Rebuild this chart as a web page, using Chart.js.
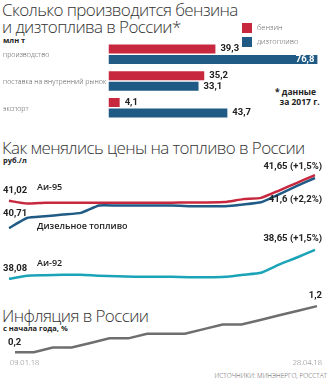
<!DOCTYPE html>
<html lang="ru">
<head>
<meta charset="UTF-8">
<title>Бензин и дизтопливо в России</title>
<script src="https://cdn.jsdelivr.net/npm/chart.js"></script>
<style>
  body { margin: 0; width: 329px; height: 380px; background: #fff; position: relative; overflow: hidden; font-family: "Open Sans", sans-serif; color: #222; }
  canvas { position: absolute; left: 0; top: 0; }
  .title { position: absolute; left: 2px; font-size: 17px; font-weight: 300; line-height: 17px; letter-spacing: -0.6px; color: #333; white-space: nowrap; }
  .unit { position: absolute; left: 3px; font-size: 7.5px; font-weight: 700; color: #222; }
  .note { position: absolute; left: 275px; top: 87px; font-size: 8.5px; font-weight: 700; line-height: 10px; color: #222; }
  .source { position: absolute; right: 2px; top: 371px; font-size: 6.5px; font-weight: 300; color: #555; }
</style>
</head>
<body>
  <div class="title" style="top:1px">Сколько производится бензина<br>и дизтоплива в России*</div>
  <div class="unit" style="top:35px">млн т</div>
  <div class="note">* данные<br>&nbsp;&nbsp;за 2017 г.</div>

  <div class="title" style="top:139px">Как менялись цены на топливо в России</div>
  <div class="unit" style="top:155px">руб./л</div>

  <div class="title" style="top:307px">Инфляция в России</div>
  <div class="unit" style="top:323px">с начала года, %</div>
  <div class="source">ИСТОЧНИКИ: МИНЭНЕРГО, РОССТАТ</div>

  <canvas id="bars" width="329" height="380"></canvas>
  <canvas id="prices" width="329" height="380"></canvas>
  <canvas id="inflation" width="329" height="380"></canvas>

<script>
// --- data ---
const categories = ['производство', 'поставка на внутренний рынок', 'экспорт'];
const petrol = [39.3, 35.2, 4.1];
const diesel = [76.8, 33.1, 43.7];

// weekly retail prices, rub per litre
const ai95 = [41.02, 40.95, 40.97, 40.97, 40.97, 40.97, 40.97, 40.97, 40.97, 40.97, 40.98, 40.98, 40.99, 41.06, 41.09, 41.27, 41.46, 41.65];
const dieselPrice = [40.71, 40.89, 40.92, 40.95, 40.98, 41.11, 41.11, 41.11, 41.11, 41.11, 41.10, 41.10, 41.10, 41.13, 41.17, 41.31, 41.46, 41.60];
const ai92 = [38.08, 38.14, 38.15, 38.16, 38.16, 38.14, 38.13, 38.12, 38.12, 38.12, 38.11, 38.11, 38.12, 38.16, 38.20, 38.36, 38.50, 38.65];

// inflation since start of year, %
const inflation = [0.2, 0.2, 0.3, 0.3, 0.4, 0.5, 0.5, 0.6, 0.6, 0.6, 0.7, 0.8, 0.8, 0.9, 1.0, 1.1, 1.2];
const dateRange = ['09.01.18', '28.04.18'];

const RED = '#c8283e', BLUE = '#1f5b85', TEAL = '#1ba3b8', GRAY = '#6e6e6e';
const numFont = 'bold 9.5px Roboto';
const fmt = v => String(v).replace('.', ',');

// --- bars ---
const barLabels = {
  id: 'barLabels',
  afterDatasetsDraw(chart) {
    const ctx = chart.ctx;
    const ys = chart.scales.y;
    ctx.save();
    ctx.textBaseline = 'middle';
    ctx.font = '300 7px "Open Sans"';
    ctx.fillStyle = '#555';
    categories.forEach((c, i) => ctx.fillText(c, 3, ys.getPixelForValue(i) + 1));

    ctx.font = numFont;
    chart.data.datasets.forEach((ds, di) => {
      chart.getDatasetMeta(di).data.forEach((bar, i) => {
        const txt = fmt(ds.data[i]);
        const w = ctx.measureText(txt).width;
        if (bar.x + w + 6 > chart.chartArea.right) {
          ctx.fillStyle = '#fff';
          ctx.textAlign = 'right';
          ctx.fillText(txt, bar.x - 3, bar.y);
        } else {
          ctx.fillStyle = '#222';
          ctx.textAlign = 'left';
          ctx.fillText(txt, bar.x + 5, bar.y);
        }
      });
    });

    // legend
    ctx.textAlign = 'left';
    ctx.font = '300 7.5px "Open Sans"';
    chart.data.datasets.forEach((ds, di) => {
      const y = 23 + di * 14;
      ctx.fillStyle = ds.backgroundColor;
      ctx.fillRect(242, y, 10, 10);
      ctx.fillStyle = '#666';
      ctx.fillText(ds.label, 257, y + 5);
    });
    ctx.restore();
  }
};

new Chart(document.getElementById('bars'), {
  type: 'bar',
  data: {
    labels: categories,
    datasets: [
      { label: 'бензин', data: petrol, backgroundColor: RED },
      { label: 'дизтопливо', data: diesel, backgroundColor: BLUE }
    ]
  },
  options: {
    indexAxis: 'y',
    responsive: false,
    animation: false,
    categoryPercentage: 0.78,
    barPercentage: 0.86,
    layout: { padding: { left: 108.5, right: 2.9, top: 40.8, bottom: 258.8 } },
    scales: {
      x: { display: false, min: 0, max: 80 },
      y: { display: false }
    },
    plugins: { legend: { display: false }, tooltip: { enabled: false } }
  },
  plugins: [barLabels]
});

// --- fuel prices ---
const priceSeries = [
  { label: 'Аи-95', data: ai95, color: RED, axis: 'y95', startDy: -10, endDy: -8, nameDy: -13 },
  { label: 'Дизельное топливо', data: dieselPrice, color: BLUE, axis: 'yd', startDy: -14, endDy: 22, nameDy: -2 },
  { label: 'Аи-92', data: ai92, color: TEAL, axis: 'y92', startDy: -10, endDy: -11, nameDy: -15 }
];

const priceLabels = {
  id: 'priceLabels',
  afterDatasetsDraw(chart) {
    const ctx = chart.ctx;
    ctx.save();
    ctx.textBaseline = 'middle';
    ctx.fillStyle = '#222';
    priceSeries.forEach((s, di) => {
      const pts = chart.getDatasetMeta(di).data;
      const first = pts[0], last = pts[pts.length - 1];
      const v0 = s.data[0], v1 = s.data[s.data.length - 1];
      const pct = ((v1 / v0 - 1) * 100).toFixed(1);
      ctx.font = numFont;
      ctx.textAlign = 'left';
      ctx.fillText(fmt(v0), 3, first.y + s.startDy);
      ctx.textAlign = 'right';
      ctx.fillText(fmt(v1) + ' (+' + fmt(pct) + '%)', 322, last.y + s.endDy);
      ctx.textAlign = 'left';
      ctx.font = '600 9px "Open Sans"';
      ctx.fillText(s.label, 37, first.y + s.nameDy);
    });
    ctx.restore();
  }
};

new Chart(document.getElementById('prices'), {
  type: 'line',
  data: {
    labels: ai95.map((_, i) => i),
    datasets: priceSeries.map(s => ({
      label: s.label, data: s.data, yAxisID: s.axis,
      borderColor: s.color, borderWidth: 2.5, pointRadius: 0, tension: 0.15, clip: false
    }))
  },
  options: {
    responsive: false,
    animation: false,
    layout: { padding: { left: 9, right: 14, top: 160, bottom: 90 } },
    scales: {
      x: { display: false },
      y95: { display: false, min: 38.83, max: 42.02 },
      yd: { display: false, min: 39.61, max: 41.92 },
      y92: { display: false, min: 37.86, max: 40.42 }
    },
    plugins: { legend: { display: false }, tooltip: { enabled: false } }
  },
  plugins: [priceLabels]
});

// --- inflation ---
const inflLabels = {
  id: 'inflLabels',
  afterDatasetsDraw(chart) {
    const ctx = chart.ctx;
    const pts = chart.getDatasetMeta(0).data;
    const first = pts[0], last = pts[pts.length - 1];
    ctx.save();
    ctx.textBaseline = 'middle';
    ctx.fillStyle = '#222';
    ctx.font = numFont;
    ctx.textAlign = 'left';
    ctx.fillText(fmt(inflation[0]), 8, first.y - 10);
    ctx.textAlign = 'right';
    ctx.fillText(fmt(inflation[inflation.length - 1]), 322, last.y - 10);
    ctx.font = '300 7.5px "Open Sans"';
    ctx.fillStyle = '#777';
    ctx.textAlign = 'left';
    ctx.fillText(dateRange[0], 10, 363);
    ctx.textAlign = 'right';
    ctx.fillText(dateRange[1], 322, 363);
    ctx.restore();
  }
};

new Chart(document.getElementById('inflation'), {
  type: 'line',
  data: {
    labels: inflation.map((_, i) => i),
    datasets: [{ data: inflation, borderColor: GRAY, borderWidth: 2.5, pointRadius: 0, tension: 0, clip: false }]
  },
  options: {
    responsive: false,
    animation: false,
    layout: { padding: { left: 15, right: 12, top: 290, bottom: 20 } },
    scales: {
      x: { display: false },
      y: { display: false, min: 0.03, max: 1.55 }
    },
    plugins: { legend: { display: false }, tooltip: { enabled: false } }
  },
  plugins: [inflLabels]
});
</script>
</body>
</html>
